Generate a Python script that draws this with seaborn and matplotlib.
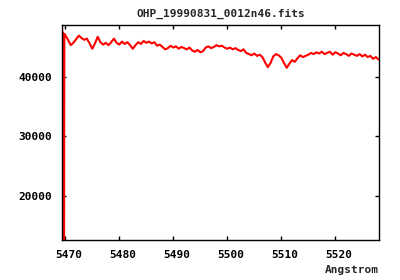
import matplotlib
matplotlib.use("Agg")
import matplotlib.pyplot as plt
import matplotlib.transforms as mtransforms
import seaborn as sns
import pandas as pd

title = "OHP_19990831_0012n46.fits"
xlabel = "Angstrom"
xticks = [5470, 5480, 5490, 5500, 5510, 5520]
yticks = [20000, 30000, 40000]

wavelength = [
    5469.40, 5469.50, 5469.58, 5469.64, 5469.70, 5469.76, 5469.82,
    5470.0, 5470.5, 5471.0, 5471.5, 5472.0, 5472.5, 5473.0, 5473.5, 5474.0, 5474.5,
    5475.0, 5475.5, 5476.0, 5476.5, 5477.0, 5477.5, 5478.0, 5478.5, 5479.0, 5479.5,
    5480.0, 5480.5, 5481.0, 5481.5, 5482.0, 5482.5, 5483.0, 5483.5, 5484.0, 5484.5,
    5485.0, 5485.5, 5486.0, 5486.5, 5487.0, 5487.5, 5488.0, 5488.5, 5489.0, 5489.5,
    5490.0, 5490.5, 5491.0, 5491.5, 5492.0, 5492.5, 5493.0, 5493.5, 5494.0, 5494.5,
    5495.0, 5495.5, 5496.0, 5496.5, 5497.0, 5497.5, 5498.0, 5498.5, 5499.0, 5499.5,
    5500.0, 5500.5, 5501.0, 5501.5, 5502.0, 5502.5, 5503.0, 5503.5, 5504.0, 5504.5,
    5505.0, 5505.5, 5506.0, 5506.5, 5507.0, 5507.5, 5508.0, 5508.5, 5509.0, 5509.5,
    5510.0, 5510.5, 5511.0, 5511.5, 5512.0, 5512.5, 5513.0, 5513.5, 5514.0, 5514.5,
    5515.0, 5515.5, 5516.0, 5516.5, 5517.0, 5517.5, 5518.0, 5518.5, 5519.0, 5519.5,
    5520.0, 5520.5, 5521.0, 5521.5, 5522.0, 5522.5, 5523.0, 5523.5, 5524.0, 5524.5,
    5525.0, 5525.5, 5526.0, 5526.5, 5527.0, 5527.5, 5528.0,
]

flux = [
    48200, 46500, 47300, 40000, 40500, 0, 47200,
    47000, 46200, 45300, 45700, 46300, 46900, 46500, 46200, 46400, 45600,
    44700, 45600, 46700, 45800, 45400, 45700, 45300, 45800, 46400, 45700,
    45400, 45900, 45500, 45800, 45300, 44700, 45300, 45800, 45500, 46000,
    45700, 45900, 45600, 45800, 45200, 45400, 45000, 44600, 44800, 45200,
    44900, 45100, 44700, 45000, 44800, 44600, 44900, 44400, 44200, 44500,
    44100, 44300, 44900, 45100, 44800, 45000, 45300, 45100, 45200, 44900,
    44700, 44900, 44600, 44800, 44500, 44300, 44600, 44000, 43800, 43600,
    43900, 43500, 43700, 43300, 42400, 41600, 42300, 43400, 43800, 43600,
    43200, 42300, 41500, 42200, 42800, 42500, 43100, 43600, 43300, 43500,
    43700, 44000, 43800, 44100, 43900, 44200, 43800, 44000, 44200, 43700,
    44100, 43900, 43600, 44000, 43800, 43500, 43900, 43700, 43500, 43800,
    43400, 43700, 43300, 43500, 43000, 43300, 42900,
]

df = pd.DataFrame({"wavelength": wavelength, "flux": flux})

sns.set_style("white")
plt.rcParams["font.family"] = ["DejaVu Sans Mono", "DejaVu Sans"]
plt.rcParams["font.weight"] = "bold"

fig = plt.figure(figsize=(4, 2.8), dpi=100)
ax = fig.add_axes([62 / 400, 40 / 280, 317 / 400, 215 / 280])

sns.lineplot(data=df, x="wavelength", y="flux", ax=ax, color="#ff0000",
             linewidth=1.5, sort=False, estimator=None)

ax.set_xlim(5469.39, 5528.09)
ax.set_ylim(12555, 48690)
ax.set_xticks(xticks)
ax.set_yticks(yticks)
ax.set_xticklabels([str(t) for t in xticks], fontsize=8, fontweight="bold")
ax.set_yticklabels([str(t) for t in yticks], fontsize=8, fontweight="bold")
ax.tick_params(direction="in", length=3, width=1, top=True, right=True,
               bottom=True, left=True, colors="black")
ax.tick_params(axis="x", pad=7)
ax.tick_params(axis="y", pad=7)

offset = mtransforms.ScaledTranslation(3.5 / 100, 0, fig.dpi_scale_trans)
for lab in ax.get_xticklabels():
    lab.set_transform(lab.get_transform() + offset)

for sp in ax.spines.values():
    sp.set_visible(True)
    sp.set_color("black")
    sp.set_linewidth(1.0)

ax.set_ylabel("")
ax.set_xlabel(xlabel, fontsize=8, fontweight="bold", loc="right", labelpad=4)
ax.set_title(title, fontsize=8, fontweight="bold", pad=6)

fig.savefig("out.png", dpi=100, facecolor="white")
